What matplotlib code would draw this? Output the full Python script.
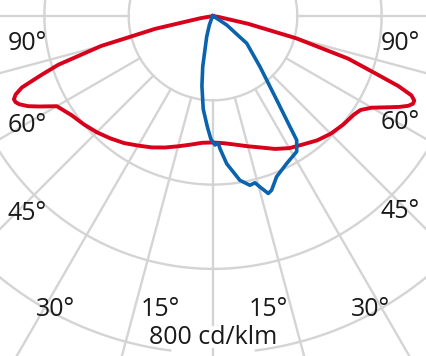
import numpy as np
import matplotlib.pyplot as plt

plt.rcParams['font.family'] = ['Open Sans', 'DejaVu Sans']

# C0-C180 plane (red), angle from nadir in degrees, cd/klm
red_angle = [-90, -85, -80, -77.5, -75, -72.5, -71, -69.5, -68.3, -67.3,
             -66.4, -65.5, -64, -62.5, -60,
             -55, -50, -45, -40, -35, -30, -25, -20, -15, -10, -5, 0,
             5, 10, 15, 20, 25, 30, 35, 40, 45, 50, 55, 57.5, 60, 62.5,
             64, 65.3, 66.3, 67.2, 68.2, 69.3, 70.5, 72.5, 75, 77.5, 80, 85, 90]
red_cd = [0, 0, 30, 140, 275, 385, 432, 484, 504, 512,
          511, 505, 488, 465, 428,
          410, 400, 390, 379, 368, 355, 344, 332, 320, 310, 302, 300,
          303, 310, 320, 332, 348, 362, 372, 385, 395, 402, 408, 415, 435, 469,
          492, 510, 518, 518, 507, 470, 410, 336, 205, 85, 15, 0, 0]

# C90-C270 plane (blue)
blue_angle = [-90, -40, -30, -22, -17, -11.5, -9, -6, -3, -1, 0.9, 2.4, 3,
              5.3, 9.3, 12.3, 14.1, 15.4, 17.3, 18.6, 21.6, 26.6, 31.7, 34,
              34.8, 37.2, 42.8, 51, 56.7, 58, 70, 90]
blue_cd = [0, 0, 6, 23, 51, 122, 168, 222, 262, 292, 306, 302, 315,
           352, 395, 411, 408, 421, 441, 436, 410, 391, 378, 355,
           320, 250, 164, 103, 39, 10, 0, 0]

rings = [200, 400, 600, 800]
spokes = [-90, -75, -60, -45, -30, -15, 0, 15, 30, 45, 60, 75, 90]

angle_labels = ["90°", "90°", "60°", "60°", "45°", "45°",
                "30°", "15°", "15°", "30°"]
label_px = [(27, 44), (400, 44), (27, 126), (400, 122), (27, 214), (400, 212),
            (56, 309), (160, 309), (268, 309), (371, 309)]
unit_label = "800 cd/klm"

W, H = 427, 356
cx, cy = 213, 16          # origin in pixels
k = 84.3 / 200            # pixels per cd/klm

red_c = '#d9001b'
blue_c = '#0a63ad'
grid_c = '#d4d4d4'

fig = plt.figure(figsize=(W / 100, H / 100), dpi=100)
ax = fig.add_axes([0, 0, 1, 1])
ax.set_xlim(-cx / k, (W - cx) / k)
ax.set_ylim(-(H - cy) / k, cy / k)
ax.axis('off')


def to_xy(ang, r):
    g = np.radians(np.asarray(ang, dtype=float))
    r = np.asarray(r, dtype=float)
    return r * np.sin(g), -r * np.cos(g)


# rings
for r in rings:
    if r == 800:
        g = np.linspace(7.3, 352.7, 400)
    else:
        g = np.linspace(0, 360, 400)
    x, y = to_xy(g, np.full_like(g, r))
    ax.plot(x, y, color=grid_c, lw=1.7, zorder=1)

# spokes
for s in spokes:
    if s == 0:
        parts = [(200, 733), (790, 1200)]
    else:
        parts = [(200, 1200)]
    for r0, r1 in parts:
        x, y = to_xy([s, s], [r0, r1])
        ax.plot(x, y, color=grid_c, lw=1.7, zorder=1)

# curves
x, y = to_xy(red_angle, red_cd)
ax.plot(x, y, color=red_c, lw=2.8, solid_joinstyle='round', zorder=3)
x, y = to_xy(blue_angle, blue_cd)
ax.plot(x, y, color=blue_c, lw=2.6, solid_joinstyle='round', zorder=4)

for txt, (px, py) in zip(angle_labels, label_px):
    fig.text(px / W, 1 - py / H, txt, ha='center', va='center',
             fontsize=18, color='#1a1a1a')
fig.text(213 / W, 1 - 337 / H, unit_label, ha='center', va='center',
         fontsize=18, color='#1a1a1a')

fig.savefig('out.png', dpi=100)
